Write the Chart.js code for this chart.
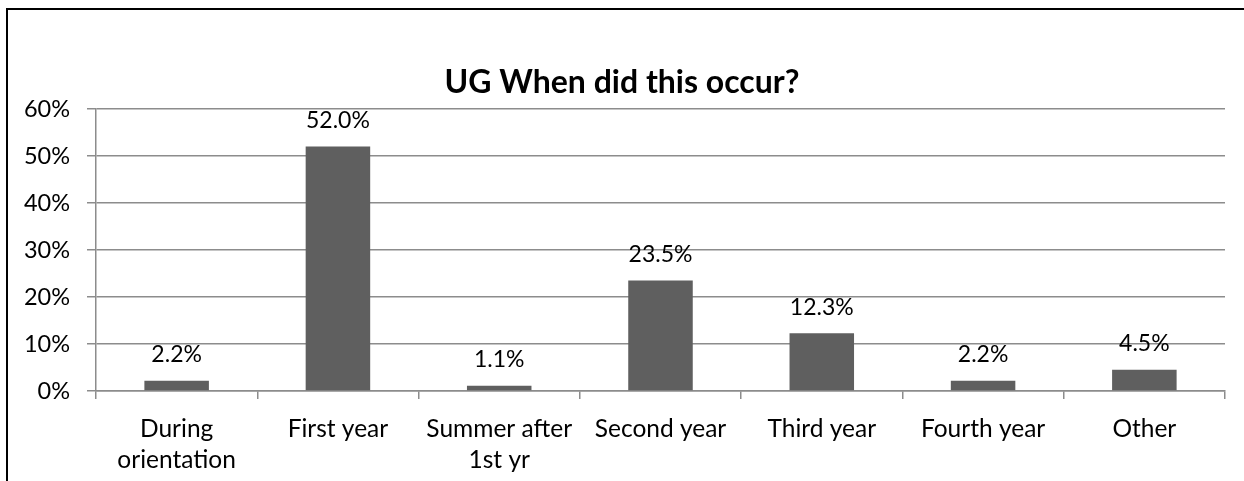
<!DOCTYPE html>
<html>
<head>
<meta charset="utf-8">
<script src="https://cdn.jsdelivr.net/npm/chart.js@4.4.1/dist/chart.umd.min.js"></script>
<style>
  html, body { margin: 0; padding: 0; background: #fff; }
  #wrap { position: relative; width: 1244px; height: 481px; overflow: hidden; }
  #frame { position: absolute; left: 6px; top: 8px; width: 1260px; height: 500px; border: 2px solid #000; box-sizing: border-box; pointer-events: none; }
  canvas { position: absolute; left: 0; top: 0; }
</style>
</head>
<body>
<div id="wrap">
  <canvas id="chart" width="1244" height="481"></canvas>
  <div id="frame"></div>
</div>
<script>
// chart data
const chartTitle = 'UG When did this occur?';
const categories = [
    ['During', 'orientation'],
    'First year',
    ['Summer after', '1st yr'],
    'Second year',
    'Third year',
    'Fourth year',
    'Other'
];
const percentages = [2.2, 52.0, 1.1, 23.5, 12.3, 2.2, 4.5];
const yTicks = { min: 0, max: 60, step: 10 };

const FONT = 'Lato, "Open Sans", sans-serif';
const gridColor = '#8c8c8c';

// title is centred on the whole frame, not on the padded layout box
const frameTitle = {
    id: 'frameTitle',
    afterDraw(chart) {
        const ctx = chart.ctx;
        ctx.save();
        ctx.font = 'bold 32px ' + FONT;
        ctx.fillStyle = '#000';
        ctx.textAlign = 'center';
        ctx.textBaseline = 'middle';
        ctx.fillText(chartTitle, 622, 83);
        ctx.restore();
    }
};

// draws the value above each bar
const valueLabels = {
    id: 'valueLabels',
    afterDatasetsDraw(chart) {
        const ctx = chart.ctx;
        const meta = chart.getDatasetMeta(0);
        ctx.save();
        ctx.font = '23px ' + FONT;
        ctx.fillStyle = '#000';
        ctx.textAlign = 'center';
        ctx.textBaseline = 'middle';
        meta.data.forEach((bar, i) => {
            ctx.fillText(percentages[i].toFixed(1) + '%', bar.x, bar.y - 26);
        });
        ctx.restore();
    }
};

new Chart(document.getElementById('chart'), {
    type: 'bar',
    data: {
        labels: categories,
        datasets: [{
            data: percentages,
            backgroundColor: '#5f5f5f',
            borderWidth: 0,
            barPercentage: 0.4,
            categoryPercentage: 1.0
        }]
    },
    options: {
        responsive: false,
        animation: false,
        layout: { padding: { left: 0, right: 19, top: 109, bottom: 0 } },
        plugins: {
            legend: { display: false },
            tooltip: { enabled: false },
            title: { display: false }
        },
        scales: {
            x: {
                grid: { display: true, drawOnChartArea: false, drawTicks: true, tickLength: 8, color: gridColor, lineWidth: 1.5, offset: true },
                border: { display: true, color: gridColor, width: 1.5 },
                ticks: { color: '#000', font: { family: FONT, size: 24.5, lineHeight: 1.25 }, padding: 15, maxRotation: 0, autoSkip: false },
                afterFit(scale) { scale.height = 90; }
            },
            y: {
                min: yTicks.min,
                max: yTicks.max,
                grid: { color: gridColor, lineWidth: 1.5, tickLength: 9 },
                border: { display: true, color: gridColor, width: 1.5 },
                ticks: {
                    stepSize: yTicks.step,
                    color: '#000',
                    font: { family: FONT, size: 23.5 },
                    padding: 17,
                    callback: v => v + '%'
                },
                afterFit(scale) { scale.width = 96; }
            }
        }
    },
    plugins: [valueLabels, frameTitle]
});
</script>
</body>
</html>
